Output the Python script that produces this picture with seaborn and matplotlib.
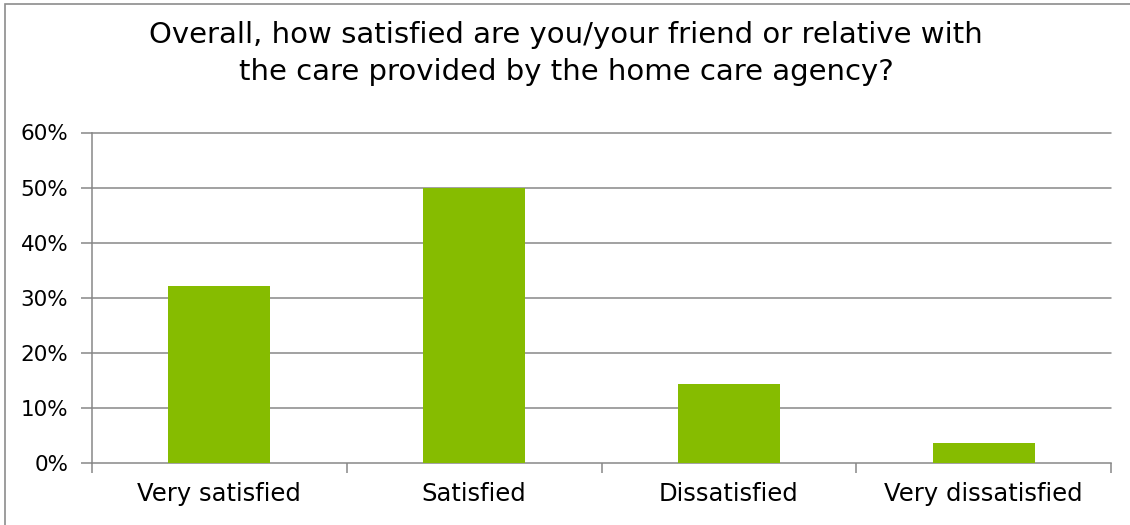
import matplotlib
matplotlib.use("Agg")
import matplotlib.pyplot as plt
import seaborn as sns
import pandas as pd
from matplotlib.patches import Rectangle
from matplotlib.ticker import FuncFormatter, FixedLocator

categories = ["Very satisfied", "Satisfied", "Dissatisfied", "Very dissatisfied"]
shares = [32.1, 50.0, 14.3, 3.6]
y_ticks = [0, 10, 20, 30, 40, 50, 60]
title_lines = ["Overall, how satisfied are you/your friend or relative with",
               "the care provided by the home care agency?"]

sns.set_theme(style="white")
plt.rcParams["font.family"] = ["DejaVu Sans"]

df = pd.DataFrame({"category": categories, "share": shares})

W, H = 1130, 525
fig = plt.figure(figsize=(W / 100, H / 100), dpi=100)
ax = fig.add_axes([92 / W, 1 - 463 / H, (1111 - 92) / W, (463 - 132.5) / H])

grid_color = "#878787"
sns.barplot(data=df, x="category", y="share", color="#86BC00", width=0.4,
            saturation=1, linewidth=0, ax=ax, zorder=3)

ax.set_ylim(0, 60)
ax.set_xlim(-0.5, len(categories) - 0.5)
ax.set_yticks(y_ticks)
ax.yaxis.set_major_formatter(FuncFormatter(lambda v, _: f"{v:.0f}%"))
for v in y_ticks[1:]:
    ax.axhline(v, color=grid_color, lw=1.1, zorder=1, clip_on=False)

ax.set_xlabel("")
ax.set_ylabel("")
for s in ["top", "right"]:
    ax.spines[s].set_visible(False)
for s in ["left", "bottom"]:
    ax.spines[s].set_color(grid_color)
    ax.spines[s].set_linewidth(1.1)

ax.tick_params(axis="x", which="major", length=0, pad=14, labelsize=17.5, labelcolor="black")
ax.xaxis.set_minor_locator(FixedLocator([i - 0.5 for i in range(len(categories) + 1)]))
ax.tick_params(axis="x", which="minor", bottom=True, length=7, width=1.1, color=grid_color, direction="out")
ax.tick_params(axis="y", left=True, length=8, width=1.1, color=grid_color, direction="out",
               pad=9, labelsize=15.5, labelcolor="black")

# two-line title, each line placed on its own baseline
for line, base in zip(title_lines, [43, 80]):
    fig.text(566 / W, 1 - base / H, line, ha="center", va="baseline",
             fontsize=21, color="black")

fig.patches.append(Rectangle((5 / W, -0.1), 1.2, (H - 4) / H + 0.1,
                             transform=fig.transFigure, fill=False,
                             edgecolor="#8c8c8c", lw=1.2, zorder=0))

fig.savefig("out.png", dpi=100, facecolor="white")
